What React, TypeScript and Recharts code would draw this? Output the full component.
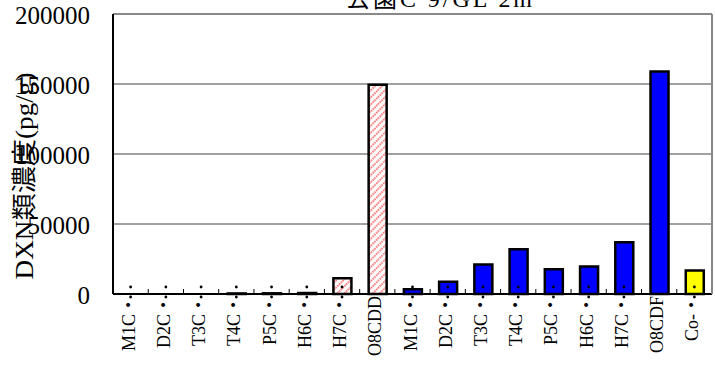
import React from 'react';
import { BarChart, Bar, XAxis, YAxis, CartesianGrid, ReferenceLine, Cell } from 'recharts';

const CATEGORIES = [
  'M1C・', 'D2C・', 'T3C・', 'T4C・', 'P5C・', 'H6C・', 'H7C・', 'O8CDD',
  'M1C・', 'D2C・', 'T3C・', 'T4C・', 'P5C・', 'H6C・', 'H7C・', 'O8CDF',
  'Co-・',
];
const GROUPS = [
  'PCDD', 'PCDD', 'PCDD', 'PCDD', 'PCDD', 'PCDD', 'PCDD', 'PCDD',
  'PCDF', 'PCDF', 'PCDF', 'PCDF', 'PCDF', 'PCDF', 'PCDF', 'PCDF',
  'CoPCB',
];
const VALUES = [
  0, 0, 0, 400, 500, 700, 11300, 149500,
  3400, 8700, 21100, 32000, 17700, 19600, 37000, 159000,
  16800,
];
const Y_TICKS = [0, 50000, 100000, 150000, 200000];
const TITLE = '公園C 9/GL 2m';
const Y_LABEL = 'DXN類濃度(pg/g)';

const FILLS: any = {
  PCDD: 'url(#hatch)',
  PCDF: '#0000ff',
  CoPCB: '#ffff00',
};

const FONT = '"Liberation Serif", "Noto Sans CJK JP", serif';

const data = CATEGORIES.map((name, i) => ({ name, value: VALUES[i], group: GROUPS[i] }));

function CatTick(props: any) {
  const { x, y, payload, index } = props;
  const half = payload && payload.offset ? payload.offset : 17.6;
  const label = String(payload.value);
  const dotted = label.endsWith('・');
  return (
    <g>
      {index > 0 && <line x1={x - half} x2={x - half} y1={y} y2={y - 5} stroke="#000" strokeWidth={1} />}
      {dotted && <circle cx={x} cy={y - 7} r={1.4} fill="#000" />}
      {dotted && <circle cx={x} cy={y + 3} r={1.4} fill="#000" />}
      <text
        transform={`translate(${x + 4},${y + 2}) rotate(-90)`}
        textAnchor="end"
        fontSize={18}
        fontFamily={FONT}
        fill="#000"
      >
        {label}
      </text>
    </g>
  );
}

function ValTick(props: any) {
  const { x, y, payload } = props;
  return (
    <text x={x} y={y + 10} textAnchor="end" fontSize={25} fontFamily={FONT} fill="#000">
      {payload.value}
    </text>
  );
}

export default function App() {
  return (
    <div style={{ position: 'absolute', left: 0, top: 0, width: 715, height: 382, background: '#fff' }}>
      <svg width={0} height={0} style={{ position: 'absolute' }}>
        <defs>
          <pattern id="hatch" width={5} height={5} patternUnits="userSpaceOnUse" patternTransform="rotate(45)">
            <rect width={5} height={5} fill="#fff" />
            <line x1={1} y1={0} x2={1} y2={5} stroke="#ff4d4d" strokeWidth={1.6} strokeDasharray="1.6 0.9" />
          </pattern>
        </defs>
      </svg>
      <BarChart
        width={715}
        height={382}
        data={data}
        margin={{ top: 14, right: 0, bottom: 0, left: 0 }}
        barCategoryGap={0}
      >
        <CartesianGrid yAxisId="l" vertical={false} stroke="#444" strokeWidth={1} />
        <XAxis
          dataKey="name"
          height={88}
          interval={0}
          tickLine={false}
          tickSize={0}
          tickMargin={0}
          axisLine={{ stroke: '#000', strokeWidth: 2 }}
          tick={<CatTick />}
        />
        <YAxis
          yAxisId="l"
          width={113}
          domain={[0, 200000]}
          ticks={Y_TICKS}
          interval={0}
          tickLine={false}
          tickSize={0}
          tickMargin={23}
          axisLine={{ stroke: '#000', strokeWidth: 2 }}
          tick={<ValTick />}
        />
        <YAxis
          yAxisId="r"
          orientation="right"
          width={3}
          domain={[0, 200000]}
          tick={false}
          tickLine={false}
          axisLine={{ stroke: '#888', strokeWidth: 2 }}
        />
        <ReferenceLine yAxisId="l" y={200000} stroke="#888" strokeWidth={2} />
        <Bar yAxisId="l" dataKey="value" barSize={18} stroke="#000" strokeWidth={2.5} isAnimationActive={false}>
          {data.map((d, i) => (
            <Cell key={`c-${i}`} fill={FILLS[d.group]} />
          ))}
        </Bar>
      </BarChart>
      <svg width={715} height={382} style={{ position: 'absolute', left: 0, top: 0, pointerEvents: 'none' }}>
        <text
          x={439}
          y={7}
          textAnchor="middle"
          fontSize={24}
          fontFamily={FONT}
          fill="#000"
          textLength={186}
          lengthAdjust="spacing"
        >
          {TITLE}
        </text>
        <text
          transform="translate(33,176) rotate(-90)"
          textAnchor="middle"
          fontSize={25}
          fontFamily={FONT}
          fill="#000"
          textLength={207}
          lengthAdjust="spacingAndGlyphs"
        >
          {Y_LABEL}
        </text>
      </svg>
    </div>
  );
}
